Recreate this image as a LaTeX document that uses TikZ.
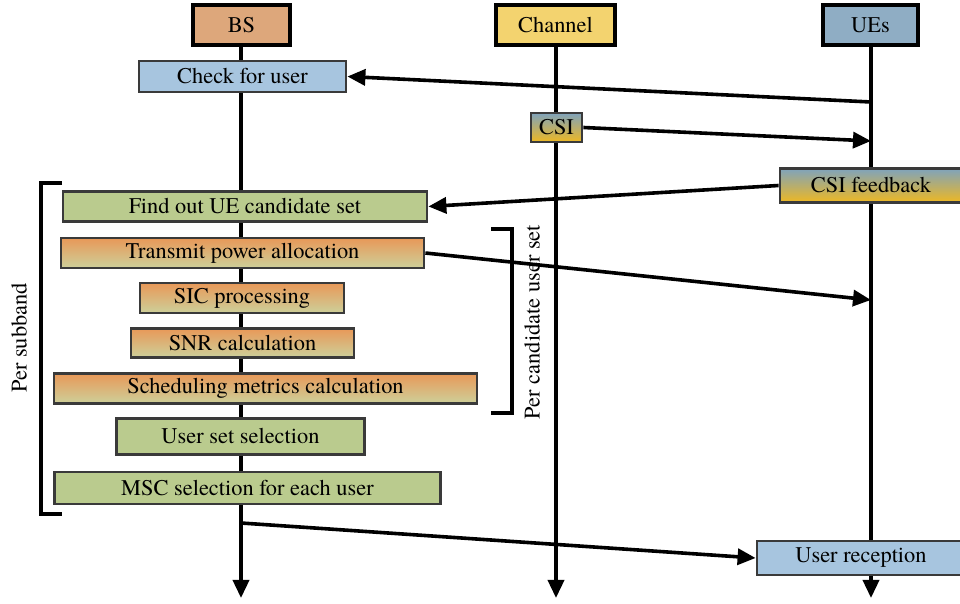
\documentclass[tikz,border=0pt]{standalone}
\usepackage{fontspec}
\setmainfont{texgyretermes}[Extension=.otf, UprightFont=*-regular, BoldFont=*-bold]
\usetikzlibrary{arrows.meta}

\definecolor{bsfill}{HTML}{DDA77B}
\definecolor{chfill}{HTML}{F3D36F}
\definecolor{uefill}{HTML}{8FADC4}
\definecolor{lightblue}{HTML}{A7C5DF}
\definecolor{boxgreen}{HTML}{BACB8E}
\definecolor{orangetop}{HTML}{E89858}
\definecolor{orangebot}{HTML}{CDD09A}
\definecolor{csitop}{HTML}{7FA3BC}
\definecolor{csibot}{HTML}{EEB822}
\definecolor{boxgrey}{HTML}{3A3A3A}

\tikzset{
  base/.style={font=\rmfamily\fontsize{11.2}{13}\selectfont, inner sep=0pt, align=center},
  head/.style={base, draw=black, line width=2.1pt, minimum height=20pt},
  stepbox/.style={base, draw=boxgrey, line width=1.4pt, minimum height=15pt},
  bluebox/.style={stepbox, fill=lightblue},
  greenbox/.style={stepbox, fill=boxgreen},
  orangebox/.style={stepbox, top color=orangetop, bottom color=orangebot},
  csibox/.style={stepbox, top color=csitop, bottom color=csibot},
  life/.style={line width=1.8pt, -{Triangle[length=9pt,width=8pt]}},
  msg/.style={line width=1.8pt, -{Triangle[length=9pt,width=8pt]}},
  bracket/.style={line width=1.6pt},
  side/.style={base, rotate=90}
}

\begin{document}
\begin{tikzpicture}[x=0.5pt, y=-0.5pt]
  \clip (0,0) rectangle (960,604);

  % column heads
  \node[head, fill=bsfill, minimum width=48.5pt] (bs) at (241.5,25) {BS};
  \node[head, fill=chfill, minimum width=59.5pt] (ch) at (555.5,25) {Channel};
  \node[head, fill=uefill, minimum width=47.5pt] (ue) at (870.5,25) {UEs};

  % lifeline ends
  \coordinate (bsend) at (241,598);
  \coordinate (chend) at (556,598);
  \coordinate (ueend) at (871,598);

  \draw[life] (bs.south -| bsend) -- (bsend);
  \draw[life] (ch.south -| chend) -- (chend);
  \draw[life] (ue.south -| ueend) -- (ueend);

  % BS steps
  \node[bluebox, minimum width=103.5pt, minimum height=15.5pt] (check) at (242.5,76.5) {Check for user};
  \node[greenbox, minimum width=182pt] (find) at (245,206.5) {Find out UE candidate set};
  \node[orangebox, minimum width=181.5pt] (tpa) at (242.5,253) {Transmit power allocation};
  \node[orangebox, minimum width=102pt] (sic) at (242,298) {SIC processing};
  \node[orangebox, minimum width=111.5pt, minimum height=14.5pt] (snr) at (242.5,343) {SNR calculation};
  \node[orangebox, minimum width=211.5pt] (sched) at (265.5,388.5) {Scheduling metrics calculation};
  \node[greenbox, minimum width=124pt, minimum height=18pt] (uss) at (240.5,436.5) {User set selection};
  \node[greenbox, minimum width=193pt, minimum height=16pt] (msc) at (247.5,488) {MSC selection for each user};

  % Channel and UE steps
  \node[csibox, minimum width=25.5pt, minimum height=14.5pt] (csi) at (556.5,127.5) {CSI};
  \node[csibox, minimum width=91pt, minimum height=17pt] (fb) at (871,185.5) {CSI feedback};
  \node[bluebox, minimum width=104pt, minimum height=17pt] (rx) at (861,558) {User reception};

  % message arrows
  \coordinate (uereq) at (871,102);
  \coordinate (uecsi) at (871,141);
  \coordinate (uepow) at (871,300);
  \coordinate (bsdata) at (241,523);

  \draw[msg] (uereq) -- (check.east);
  \draw[msg] (csi.east) -- (uecsi);
  \draw[msg] (fb.west) -- (find.east);
  \draw[msg] (tpa.east) -- (uepow);
  \draw[msg] (bsdata) -- (rx.west);

  % loop brackets
  \draw[bracket] (62,183) -- (41,183) -- (41,514) -- (62,514);
  \node[side] (persub) at (19,338) {Per subband};
  \draw[bracket] (491,229) -- (512,229) -- (512,413) -- (491,413);
  \node[side] (percand) at (532,322) {Per candidate user set};
\end{tikzpicture}
\end{document}
